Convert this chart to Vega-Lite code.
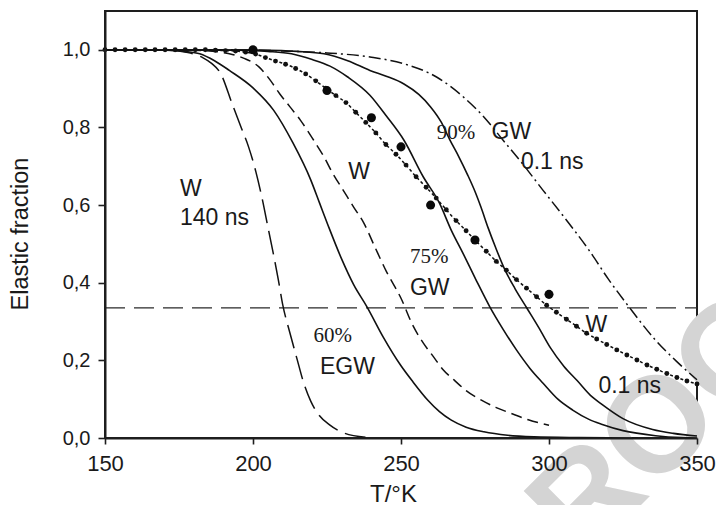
{
  "$schema": "https://vega.github.io/schema/vega-lite/v6.json",
  "width": 592,
  "height": 427,
  "autosize": {"type": "none"},
  "padding": {"left": 105, "top": 11, "right": 19, "bottom": 67},
  "background": "white",
  "config": {
    "view": {"stroke": "#1e1e1e", "strokeWidth": 2},
    "font": "Liberation Sans"
  },
  "datasets": {
    "curves": [
      {"c": "A", "T": 150, "f": 1.0}, {"c": "A", "T": 170, "f": 0.999}, {"c": "A", "T": 178, "f": 0.993},
      {"c": "A", "T": 183, "f": 0.98}, {"c": "A", "T": 186, "f": 0.965}, {"c": "A", "T": 189, "f": 0.94},
      {"c": "A", "T": 193, "f": 0.86}, {"c": "A", "T": 196, "f": 0.8}, {"c": "A", "T": 198.5, "f": 0.75},
      {"c": "A", "T": 201, "f": 0.685}, {"c": "A", "T": 203, "f": 0.62}, {"c": "A", "T": 205, "f": 0.545},
      {"c": "A", "T": 207, "f": 0.47}, {"c": "A", "T": 208.5, "f": 0.41}, {"c": "A", "T": 210, "f": 0.345},
      {"c": "A", "T": 212.5, "f": 0.27}, {"c": "A", "T": 215, "f": 0.2}, {"c": "A", "T": 217, "f": 0.145},
      {"c": "A", "T": 219.5, "f": 0.095}, {"c": "A", "T": 222, "f": 0.062}, {"c": "A", "T": 226, "f": 0.033},
      {"c": "A", "T": 231, "f": 0.012}, {"c": "A", "T": 238, "f": 0.002},

      {"c": "B", "T": 150, "f": 1.0}, {"c": "B", "T": 170, "f": 0.999}, {"c": "B", "T": 177, "f": 0.996},
      {"c": "B", "T": 182, "f": 0.99}, {"c": "B", "T": 187, "f": 0.972}, {"c": "B", "T": 192, "f": 0.947},
      {"c": "B", "T": 200, "f": 0.902}, {"c": "B", "T": 207, "f": 0.844}, {"c": "B", "T": 213.5, "f": 0.76},
      {"c": "B", "T": 219.5, "f": 0.665}, {"c": "B", "T": 222.5, "f": 0.605}, {"c": "B", "T": 225.5, "f": 0.545},
      {"c": "B", "T": 230, "f": 0.46}, {"c": "B", "T": 234, "f": 0.395}, {"c": "B", "T": 238.5, "f": 0.338},
      {"c": "B", "T": 244, "f": 0.26}, {"c": "B", "T": 250, "f": 0.186}, {"c": "B", "T": 254, "f": 0.145},
      {"c": "B", "T": 259, "f": 0.098}, {"c": "B", "T": 263, "f": 0.068}, {"c": "B", "T": 267, "f": 0.046},
      {"c": "B", "T": 272, "f": 0.028}, {"c": "B", "T": 278, "f": 0.016}, {"c": "B", "T": 286, "f": 0.007},
      {"c": "B", "T": 295, "f": 0.003}, {"c": "B", "T": 310, "f": 0.001}, {"c": "B", "T": 330, "f": 0.0},

      {"c": "C", "T": 150, "f": 1.0}, {"c": "C", "T": 180, "f": 0.999}, {"c": "C", "T": 188, "f": 0.995},
      {"c": "C", "T": 193, "f": 0.988}, {"c": "C", "T": 197, "f": 0.978}, {"c": "C", "T": 202, "f": 0.956},
      {"c": "C", "T": 206, "f": 0.92}, {"c": "C", "T": 209, "f": 0.887}, {"c": "C", "T": 212.5, "f": 0.853},
      {"c": "C", "T": 216, "f": 0.819}, {"c": "C", "T": 220.5, "f": 0.767}, {"c": "C", "T": 224, "f": 0.724},
      {"c": "C", "T": 227, "f": 0.681}, {"c": "C", "T": 230.5, "f": 0.638}, {"c": "C", "T": 234, "f": 0.595},
      {"c": "C", "T": 237.5, "f": 0.553}, {"c": "C", "T": 241, "f": 0.495}, {"c": "C", "T": 245, "f": 0.43},
      {"c": "C", "T": 250, "f": 0.36}, {"c": "C", "T": 254, "f": 0.29}, {"c": "C", "T": 257.5, "f": 0.245},
      {"c": "C", "T": 261, "f": 0.209}, {"c": "C", "T": 264, "f": 0.178}, {"c": "C", "T": 268, "f": 0.149},
      {"c": "C", "T": 272, "f": 0.122}, {"c": "C", "T": 277, "f": 0.098}, {"c": "C", "T": 282, "f": 0.079},
      {"c": "C", "T": 287, "f": 0.064}, {"c": "C", "T": 293, "f": 0.047}, {"c": "C", "T": 300, "f": 0.033},

      {"c": "D", "T": 150, "f": 1.0}, {"c": "D", "T": 195, "f": 0.999}, {"c": "D", "T": 205, "f": 0.996},
      {"c": "D", "T": 213, "f": 0.99}, {"c": "D", "T": 220, "f": 0.975}, {"c": "D", "T": 226, "f": 0.958},
      {"c": "D", "T": 232, "f": 0.93}, {"c": "D", "T": 239.5, "f": 0.883}, {"c": "D", "T": 245, "f": 0.83},
      {"c": "D", "T": 251, "f": 0.767}, {"c": "D", "T": 257.5, "f": 0.673}, {"c": "D", "T": 263, "f": 0.605},
      {"c": "D", "T": 267, "f": 0.535}, {"c": "D", "T": 271, "f": 0.475}, {"c": "D", "T": 275.5, "f": 0.405},
      {"c": "D", "T": 280, "f": 0.338}, {"c": "D", "T": 284.5, "f": 0.28}, {"c": "D", "T": 289, "f": 0.227},
      {"c": "D", "T": 293.5, "f": 0.18}, {"c": "D", "T": 298, "f": 0.141}, {"c": "D", "T": 303, "f": 0.1},
      {"c": "D", "T": 308, "f": 0.072}, {"c": "D", "T": 313.5, "f": 0.048}, {"c": "D", "T": 318, "f": 0.035},
      {"c": "D", "T": 325, "f": 0.019}, {"c": "D", "T": 336, "f": 0.006}, {"c": "D", "T": 345, "f": 0.001},
      {"c": "D", "T": 350, "f": 0.0},

      {"c": "E", "T": 150, "f": 1.0}, {"c": "E", "T": 205, "f": 0.999}, {"c": "E", "T": 215, "f": 0.996},
      {"c": "E", "T": 224, "f": 0.99}, {"c": "E", "T": 232, "f": 0.972}, {"c": "E", "T": 239.5, "f": 0.947},
      {"c": "E", "T": 245, "f": 0.932}, {"c": "E", "T": 251, "f": 0.912}, {"c": "E", "T": 256, "f": 0.885},
      {"c": "E", "T": 260, "f": 0.853}, {"c": "E", "T": 263.5, "f": 0.815}, {"c": "E", "T": 266.5, "f": 0.768},
      {"c": "E", "T": 269.5, "f": 0.725}, {"c": "E", "T": 272.5, "f": 0.678}, {"c": "E", "T": 275, "f": 0.635},
      {"c": "E", "T": 277, "f": 0.595}, {"c": "E", "T": 279.5, "f": 0.54}, {"c": "E", "T": 282, "f": 0.49},
      {"c": "E", "T": 285, "f": 0.435}, {"c": "E", "T": 288.5, "f": 0.385}, {"c": "E", "T": 292.5, "f": 0.335},
      {"c": "E", "T": 296.5, "f": 0.285}, {"c": "E", "T": 300.5, "f": 0.232}, {"c": "E", "T": 305, "f": 0.185},
      {"c": "E", "T": 309.5, "f": 0.148}, {"c": "E", "T": 314, "f": 0.11}, {"c": "E", "T": 318, "f": 0.086},
      {"c": "E", "T": 325, "f": 0.05}, {"c": "E", "T": 335, "f": 0.022}, {"c": "E", "T": 342, "f": 0.012},
      {"c": "E", "T": 350, "f": 0.005},

      {"c": "F", "T": 150, "f": 1.0}, {"c": "F", "T": 190, "f": 1.0}, {"c": "F", "T": 210, "f": 0.997},
      {"c": "F", "T": 225, "f": 0.992}, {"c": "F", "T": 240, "f": 0.981}, {"c": "F", "T": 251, "f": 0.964},
      {"c": "F", "T": 262, "f": 0.93}, {"c": "F", "T": 271, "f": 0.879}, {"c": "F", "T": 278, "f": 0.827},
      {"c": "F", "T": 284.5, "f": 0.767}, {"c": "F", "T": 291, "f": 0.707}, {"c": "F", "T": 298, "f": 0.638},
      {"c": "F", "T": 305, "f": 0.57}, {"c": "F", "T": 313.5, "f": 0.484}, {"c": "F", "T": 320, "f": 0.41},
      {"c": "F", "T": 327, "f": 0.338}, {"c": "F", "T": 336, "f": 0.252}, {"c": "F", "T": 343, "f": 0.198},
      {"c": "F", "T": 350, "f": 0.15},

      {"c": "H", "T": 150, "f": 0.335}, {"c": "H", "T": 350, "f": 0.335}
    ],
    "w01": [
      {"T": 150.0, "f": 1.0}, {"T": 153.4, "f": 1.0}, {"T": 156.8, "f": 1.0}, {"T": 160.2, "f": 1.0},
      {"T": 163.6, "f": 1.0}, {"T": 166.9, "f": 1.0}, {"T": 170.3, "f": 1.0}, {"T": 173.7, "f": 1.0},
      {"T": 177.1, "f": 1.0}, {"T": 180.5, "f": 1.0}, {"T": 183.9, "f": 1.0}, {"T": 187.3, "f": 0.999},
      {"T": 190.7, "f": 0.998}, {"T": 194.1, "f": 0.997}, {"T": 197.5, "f": 0.994}, {"T": 200.9, "f": 0.989},
      {"T": 204.2, "f": 0.98}, {"T": 207.6, "f": 0.971}, {"T": 211.0, "f": 0.963}, {"T": 214.4, "f": 0.952},
      {"T": 217.8, "f": 0.938}, {"T": 221.2, "f": 0.92}, {"T": 224.6, "f": 0.901}, {"T": 228.0, "f": 0.882},
      {"T": 231.4, "f": 0.864}, {"T": 234.7, "f": 0.839}, {"T": 238.1, "f": 0.813}, {"T": 241.5, "f": 0.786},
      {"T": 244.9, "f": 0.756}, {"T": 248.3, "f": 0.731}, {"T": 251.7, "f": 0.703}, {"T": 255.1, "f": 0.673},
      {"T": 258.5, "f": 0.646}, {"T": 261.9, "f": 0.618}, {"T": 265.3, "f": 0.588}, {"T": 268.6, "f": 0.56},
      {"T": 272.0, "f": 0.534}, {"T": 275.4, "f": 0.507}, {"T": 278.8, "f": 0.481}, {"T": 282.2, "f": 0.455},
      {"T": 285.6, "f": 0.432}, {"T": 289.0, "f": 0.408}, {"T": 292.4, "f": 0.386}, {"T": 295.8, "f": 0.364},
      {"T": 299.2, "f": 0.342}, {"T": 302.5, "f": 0.324}, {"T": 305.9, "f": 0.306}, {"T": 309.3, "f": 0.288},
      {"T": 312.7, "f": 0.27}, {"T": 316.1, "f": 0.255}, {"T": 319.5, "f": 0.241}, {"T": 322.9, "f": 0.227},
      {"T": 326.3, "f": 0.214}, {"T": 329.7, "f": 0.201}, {"T": 333.1, "f": 0.188}, {"T": 336.4, "f": 0.177},
      {"T": 339.8, "f": 0.166}, {"T": 343.2, "f": 0.156}, {"T": 346.6, "f": 0.147}, {"T": 350.0, "f": 0.139}
    ],
    "measured": [
      {"T": 200, "f": 1.0}, {"T": 225, "f": 0.895}, {"T": 240, "f": 0.825}, {"T": 250, "f": 0.75},
      {"T": 260, "f": 0.6}, {"T": 275, "f": 0.51}, {"T": 300, "f": 0.37}
    ],
    "sansLabels": [
      {"T": 175.3, "f": 0.623, "label": "W"},
      {"T": 175.3, "f": 0.548, "label": "140 ns"},
      {"T": 232.2, "f": 0.668, "label": "W"},
      {"T": 280.6, "f": 0.77, "label": "GW"},
      {"T": 290.5, "f": 0.694, "label": "0.1 ns"},
      {"T": 253.0, "f": 0.368, "label": "GW"},
      {"T": 222.6, "f": 0.164, "label": "EGW"},
      {"T": 312.3, "f": 0.272, "label": "W"},
      {"T": 316.7, "f": 0.115, "label": "0.1 ns"}
    ],
    "serifLabels": [
      {"T": 262.1, "f": 0.77, "label": "90%"},
      {"T": 253.0, "f": 0.45, "label": "75%"},
      {"T": 220.4, "f": 0.248, "label": "60%"}
    ]
  },
  "encoding": {
    "x": {
      "field": "T",
      "type": "quantitative",
      "scale": {"domain": [150, 350], "nice": false, "zero": false},
      "axis": {
        "zindex": 1,
        "values": [150, 200, 250, 300, 350],
        "title": "T/°K",
        "titleFont": "Liberation Sans",
        "titleFontSize": 24,
        "titleFontWeight": "normal",
        "titleColor": "#1a1a1a",
        "titleX": 288,
        "titleY": 63,
        "titleAlign": "center",
        "titleBaseline": "alphabetic",
        "labelFont": "Liberation Sans",
        "labelFontSize": 22,
        "labelColor": "#1a1a1a",
        "labelPadding": 9,
        "labelFlush": false,
        "labelOverlap": false,
        "tickSize": 6,
        "tickWidth": 1.6,
        "tickColor": "#1e1e1e",
        "domainColor": "#1e1e1e",
        "domainWidth": 2,
        "grid": false
      }
    },
    "y": {
      "field": "f",
      "type": "quantitative",
      "scale": {"domain": [0, 1.1], "nice": false, "zero": false},
      "axis": {
        "zindex": 1,
        "values": [0, 0.2, 0.4, 0.6, 0.8, 1.0],
        "labelExpr": "replace(format(datum.value, '.1f'), '.', ',')",
        "title": "Elastic fraction",
        "titleFont": "Liberation Sans",
        "titleFontSize": 23.5,
        "titleFontWeight": "normal",
        "titleColor": "#1a1a1a",
        "titleX": -78,
        "titleY": 222.5,
        "titleAngle": 270,
        "titleAlign": "center",
        "titleBaseline": "alphabetic",
        "labelFont": "Liberation Sans",
        "labelFontSize": 20,
        "labelColor": "#1a1a1a",
        "labelPadding": 8,
        "labelFlush": false,
        "labelOverlap": false,
        "tickSize": 7,
        "tickWidth": 1.6,
        "tickColor": "#1e1e1e",
        "domainColor": "#1e1e1e",
        "domainWidth": 2,
        "grid": false
      }
    }
  },
  "layer": [
    {
      "data": {"values": [{"T": 337.5, "f": 0.026, "label": "PROOF"}]},
      "mark": {"type": "text", "font": "Liberation Sans", "fontWeight": "bold", "fontSize": 135, "angle": -45, "align": "center", "baseline": "middle", "color": "#d4d4d4"},
      "encoding": {"text": {"field": "label"}}
    },
    {
      "data": {"name": "curves"},
      "transform": [{"filter": "datum.c === 'H'"}],
      "mark": {"type": "line", "color": "#2a2a2a", "strokeWidth": 1.3, "strokeDash": [20, 9]},
      "encoding": {"order": {"field": "T"}}
    },
    {
      "data": {"name": "curves"},
      "transform": [{"filter": "datum.c === 'A'"}],
      "mark": {"type": "line", "color": "#111111", "strokeWidth": 1.5, "strokeDash": [24, 8], "interpolate": "monotone"},
      "encoding": {"order": {"field": "T"}}
    },
    {
      "data": {"name": "curves"},
      "transform": [{"filter": "datum.c === 'B' || datum.c === 'D' || datum.c === 'E'"}],
      "mark": {"type": "line", "color": "#111111", "strokeWidth": 1.6, "interpolate": "monotone"},
      "encoding": {"detail": {"field": "c"}, "order": {"field": "T"}}
    },
    {
      "data": {"name": "curves"},
      "transform": [{"filter": "datum.c === 'C'"}],
      "mark": {"type": "line", "color": "#111111", "strokeWidth": 1.5, "strokeDash": [11, 6], "interpolate": "monotone"},
      "encoding": {"order": {"field": "T"}}
    },
    {
      "data": {"name": "curves"},
      "transform": [{"filter": "datum.c === 'F'"}],
      "mark": {"type": "line", "color": "#111111", "strokeWidth": 1.5, "strokeDash": [12, 4, 2, 4], "interpolate": "monotone"},
      "encoding": {"order": {"field": "T"}}
    },
    {
      "data": {"name": "w01"},
      "mark": {"type": "line", "color": "#111111", "strokeWidth": 1.5, "strokeDash": [3, 2.5], "interpolate": "monotone"},
      "encoding": {"order": {"field": "T"}}
    },
    {
      "data": {"name": "w01"},
      "mark": {"type": "circle", "color": "#111111", "size": 24, "opacity": 1}
    },
    {
      "data": {"name": "measured"},
      "mark": {"type": "circle", "color": "#0a0a0a", "size": 82, "opacity": 1}
    },
    {
      "data": {"name": "sansLabels"},
      "mark": {"type": "text", "font": "Liberation Sans", "fontSize": 23, "align": "left", "baseline": "alphabetic", "color": "#1a1a1a"},
      "encoding": {"text": {"field": "label"}}
    },
    {
      "data": {"name": "serifLabels"},
      "mark": {"type": "text", "font": "Liberation Serif", "fontSize": 21, "align": "left", "baseline": "alphabetic", "color": "#1a1a1a"},
      "encoding": {"text": {"field": "label"}}
    }
  ]
}
